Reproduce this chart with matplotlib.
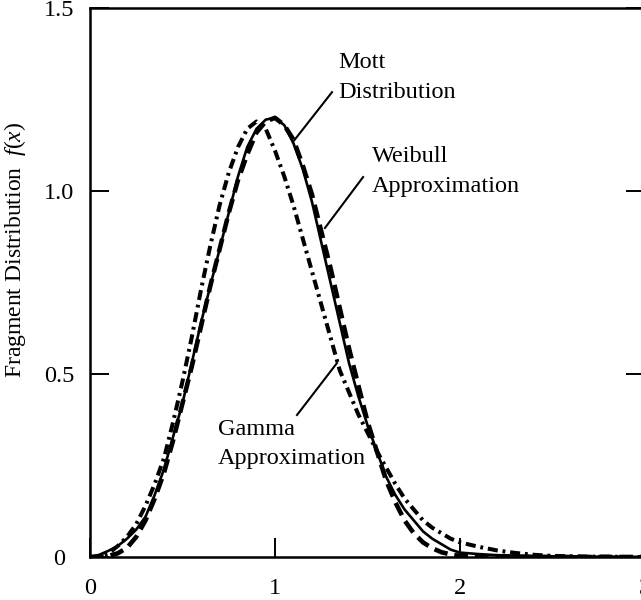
from matplotlib import pyplot as plt

plt.rcParams['font.family'] = ['Liberation Serif', 'DejaVu Serif']
plt.rcParams['mathtext.fontset'] = 'custom'
plt.rcParams['mathtext.rm'] = 'Liberation Serif'
plt.rcParams['mathtext.it'] = 'Liberation Serif:italic'

# normalised fragment size: 0.05 steps up to 2, then 0.1 steps
x_vals = [0.0, 0.05, 0.1, 0.15, 0.2, 0.25, 0.3, 0.35, 0.4, 0.45,
          0.5, 0.55, 0.6, 0.65, 0.7, 0.75, 0.8, 0.85, 0.9, 0.95,
          1.0, 1.05, 1.1, 1.15, 1.2, 1.25, 1.3, 1.35, 1.4, 1.45,
          1.5, 1.55, 1.6, 1.65, 1.7, 1.75, 1.8, 1.85, 1.9, 1.95,
          2.0, 2.1, 2.2, 2.3, 2.4, 2.5, 2.6, 2.7, 2.8, 2.9, 3.0]

# Mott distribution
mott = [0.0, 0.006, 0.017, 0.03, 0.05, 0.075, 0.11, 0.17, 0.24, 0.33,
        0.42, 0.53, 0.64, 0.74, 0.84, 0.94, 1.04, 1.12, 1.17, 1.195,
        1.20, 1.18, 1.13, 1.06, 0.97, 0.86, 0.75, 0.64, 0.53, 0.44,
        0.36, 0.29, 0.22, 0.17, 0.13, 0.10, 0.07, 0.05, 0.035, 0.02,
        0.012, 0.008, 0.005, 0.004, 0.003, 0.002, 0.002, 0.001, 0.001, 0.001, 0.0]

# Weibull approximation
weibull = [0.0, 0.0005, 0.003, 0.01, 0.025, 0.055, 0.10, 0.16, 0.23, 0.32,
           0.42, 0.52, 0.63, 0.74, 0.84, 0.94, 1.03, 1.10, 1.16, 1.19,
           1.20, 1.18, 1.14, 1.07, 0.99, 0.89, 0.79, 0.68, 0.57, 0.47,
           0.37, 0.29, 0.21, 0.15, 0.10, 0.065, 0.04, 0.024, 0.013, 0.007,
           0.003, 0.001, 0.0, 0.0, 0.0, 0.0, 0.0, 0.0, 0.0, 0.0, 0.0]

# Gamma approximation
gamma = [0.0, 0.002, 0.01, 0.03, 0.055, 0.09, 0.14, 0.20, 0.27, 0.37,
         0.48, 0.60, 0.73, 0.85, 0.96, 1.05, 1.12, 1.17, 1.19, 1.17,
         1.11, 1.04, 0.96, 0.87, 0.78, 0.69, 0.60, 0.51, 0.45, 0.39,
         0.34, 0.29, 0.245, 0.20, 0.16, 0.13, 0.10, 0.08, 0.065, 0.05,
         0.04, 0.028, 0.018, 0.011, 0.006, 0.003, 0.002, 0.001, 0.001, 0.0, 0.0]

x_ticks = [0, 1, 2, 3]
x_ticklabels = ['0', '1', '2', '3']
y_ticks = [0, 0.5, 1.0, 1.5]
y_ticklabels = ['0', '0.5', '1.0', '1.5']

fig = plt.figure(figsize=(6.41, 6.0), dpi=100)
ax = fig.add_axes([90/641, 43/600, 555/641, 549/600])

ax.plot(x_vals, mott, color='black', lw=1.9)
ax.plot(x_vals, weibull, color='black', lw=3.3, linestyle=(0, (3.0, 1.5)))
ax.plot(x_vals, gamma, color='black', lw=2.9, linestyle=(0, (2.5, 1.2, 0.7, 1.2)))

ax.set_xlim(0, 3)
ax.set_ylim(0, 1.5)
ax.set_xticks(x_ticks)
ax.set_xticklabels(x_ticklabels)
ax.set_yticks(y_ticks)
ax.set_yticklabels(y_ticklabels)
ax.tick_params(axis='both', direction='in', length=14, width=1.4,
               labelsize=17.5, right=True, top=False)
ax.tick_params(axis='x', pad=15)
ax.tick_params(axis='y', pad=22)
plt.setp(ax.get_yticklabels(), ha='center')
for side in ['left', 'bottom', 'top', 'right']:
    ax.spines[side].set_linewidth(1.8)

# curve labels with leader lines
ax.text(1.34, 1.336, 'Mott', fontsize=17.5, va='baseline')
ax.text(1.34, 1.254, 'Distribution', fontsize=17.5, va='baseline')
ax.plot([1.308, 1.097], [1.270, 1.134], color='black', lw=1.5)

ax.text(1.524, 1.079, 'Weibull', fontsize=17.5, va='baseline')
ax.text(1.524, 0.997, 'Approximation', fontsize=17.5, va='baseline')
ax.plot([1.476, 1.270], [1.038, 0.899], color='black', lw=1.5)

ax.text(0.692, 0.333, 'Gamma', fontsize=17.5, va='baseline')
ax.text(0.692, 0.254, 'Approximation', fontsize=17.5, va='baseline')
ax.plot([1.119, 1.335], [0.388, 0.530], color='black', lw=1.5)

fig.text(15/641, 1 - 250/600, 'Fragment Distribution  $f(x)$', fontsize=17,
         rotation=90, ha='center', va='center')

fig.savefig('out.png', dpi=100)
